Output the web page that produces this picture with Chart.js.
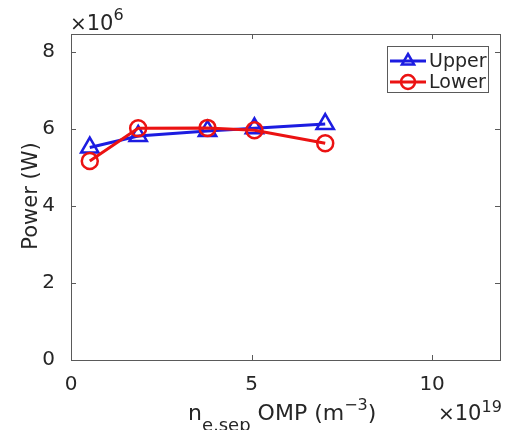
<!DOCTYPE html>
<html>
<head>
<meta charset="UTF-8">
<title>Power vs density</title>
<script src="https://cdn.jsdelivr.net/npm/chart.js"></script>
<style>
    body { margin: 0; background: #fff; }
    canvas { display: block; }
</style>
</head>
<body>
<canvas id="grafico" width="505" height="430"></canvas>
<script>
    // dados
    const densidade = [0.52, 1.86, 3.78, 5.08, 7.04];   // x 1e19 m^-3
    const potUpper = [5.52, 5.82, 5.95, 6.02, 6.13];   // x 1e6 W
    const potLower = [5.17, 6.02, 6.03, 5.97, 5.63];
    const ticksX = [0, 5, 10];
    const ticksY = [0, 2, 4, 6, 8];
    const nomes = ['Upper', 'Lower'];

    const azul = 'rgb(28,28,225)';
    const vermelho = 'rgb(235,18,18)';
    const cinza = 'rgb(90,90,90)';
    const texto = 'rgb(38,38,38)';
    const fonte = 'DejaVu Sans';

    function pontos(ys) {
        return densidade.map((x, i) => ({ x: x, y: ys[i] }));
    }

    function marcador(ctx, estilo, x, y, r, cor) {
        ctx.save();
        ctx.strokeStyle = cor;
        ctx.lineWidth = 2.5;
        ctx.beginPath();
        if (estilo == 'triangle') {
            ctx.moveTo(x, y - r);
            ctx.lineTo(x + r * 0.87, y + r * 0.5);
            ctx.lineTo(x - r * 0.87, y + r * 0.5);
            ctx.closePath();
        } else {
            ctx.arc(x, y, r, 0, Math.PI * 2);
        }
        ctx.stroke();
        ctx.restore();
    }

    // caixa, ticks para dentro, legenda e textos
    const moldura = {
        id: 'moldura',
        afterDraw(chart) {
            const ctx = chart.ctx;
            const a = chart.chartArea;
            const sx = chart.scales.x;
            const sy = chart.scales.y;
            ctx.save();
            ctx.strokeStyle = cinza;
            ctx.lineWidth = 1;
            ctx.strokeRect(a.left + 0.5, a.top + 0.5, a.right - a.left, a.bottom - a.top);
            ctx.beginPath();
            ticksX.forEach(v => {
                const px = Math.round(sx.getPixelForValue(v)) + 0.5;
                ctx.moveTo(px, a.bottom); ctx.lineTo(px, a.bottom - 5);
                ctx.moveTo(px, a.top); ctx.lineTo(px, a.top + 5);
            });
            ticksY.forEach(v => {
                const py = Math.round(sy.getPixelForValue(v)) + 0.5;
                ctx.moveTo(a.left, py); ctx.lineTo(a.left + 5, py);
                ctx.moveTo(a.right, py); ctx.lineTo(a.right - 5, py);
            });
            ctx.stroke();

            // legenda
            ctx.fillStyle = '#fff';
            ctx.fillRect(387, 46, 101, 46);
            ctx.strokeStyle = cinza;
            ctx.strokeRect(387.5, 46.5, 101, 46);
            const cores = [azul, vermelho];
            const estilos = ['triangle', 'circle'];
            const linhas = [61, 82];
            ctx.font = '19px ' + fonte;
            ctx.textBaseline = 'middle';
            nomes.forEach((n, i) => {
                ctx.strokeStyle = cores[i];
                ctx.lineWidth = 3;
                ctx.beginPath();
                ctx.moveTo(390, linhas[i]);
                ctx.lineTo(426, linhas[i]);
                ctx.stroke();
                marcador(ctx, estilos[i], 408, linhas[i], 7, cores[i]);
                ctx.fillStyle = texto;
                ctx.fillText(n, 429, linhas[i] + 1);
            });

            // titulo do eixo y
            ctx.save();
            ctx.translate(37, 196);
            ctx.rotate(-Math.PI / 2);
            ctx.textAlign = 'center';
            ctx.textBaseline = 'alphabetic';
            ctx.font = '21px ' + fonte;
            ctx.fillText('Power (W)', 0, 0);
            ctx.restore();

            // titulo do eixo x com subscrito e sobrescrito
            ctx.textAlign = 'left';
            ctx.textBaseline = 'alphabetic';
            let x = 188;
            const base = 420;
            ctx.font = '22px ' + fonte;
            ctx.fillText('n', x, base);
            x += ctx.measureText('n').width;
            ctx.font = '18px ' + fonte;
            ctx.fillText('e,sep', x, base + 11);
            x += ctx.measureText('e,sep').width + 7;
            ctx.font = '22px ' + fonte;
            ctx.fillText('OMP (m', x, base);
            x += ctx.measureText('OMP (m').width;
            ctx.font = '16px ' + fonte;
            ctx.fillText('\u22123', x, base - 10);
            x += ctx.measureText('\u22123').width;
            ctx.font = '22px ' + fonte;
            ctx.fillText(')', x, base);

            // expoentes
            function expoente(px, py, e, dy) {
                ctx.font = '20px ' + fonte;
                ctx.fillText('\u00d7', px, py);
                let w = ctx.measureText('\u00d7').width;
                ctx.font = '21px ' + fonte;
                ctx.fillText('10', px + w, py);
                w += ctx.measureText('10').width;
                ctx.font = '16px ' + fonte;
                ctx.fillText(e, px + w, py - dy);
            }
            expoente(70, 30, '6', 10);
            expoente(438, 420, '19', 8);
            ctx.restore();
        }
    };

    const config = {
        type: 'scatter',
        data: {
            datasets: [
                {
                    label: nomes[0],
                    data: pontos(potUpper),
                    showLine: true,
                    borderColor: azul,
                    backgroundColor: 'rgba(0,0,0,0)',
                    borderWidth: 3,
                    pointStyle: 'triangle',
                    pointRadius: 10,
                    pointBorderWidth: 2.5,
                    order: 1
                },
                {
                    label: nomes[1],
                    data: pontos(potLower),
                    showLine: true,
                    borderColor: vermelho,
                    backgroundColor: 'rgba(0,0,0,0)',
                    borderWidth: 3,
                    pointStyle: 'circle',
                    pointRadius: 8,
                    pointBorderWidth: 2.5,
                    order: 0
                }
            ]
        },
        options: {
            responsive: false,
            animation: false,
            devicePixelRatio: 1,
            layout: { autoPadding: false, padding: { top: 34, right: 5, left: 0, bottom: 0 } },
            plugins: {
                legend: { display: false },
                tooltip: { enabled: false }
            },
            scales: {
                x: {
                    type: 'linear',
                    min: 0,
                    max: 11.88,
                    grid: { display: false },
                    border: { display: false },
                    afterBuildTicks: s => { s.ticks = ticksX.map(v => ({ value: v })); },
                    afterFit: s => { s.height = 70; },
                    ticks: { color: texto, padding: 5, font: { family: fonte, size: 20 } }
                },
                y: {
                    type: 'linear',
                    min: 0,
                    max: 8.47,
                    grid: { display: false },
                    border: { display: false },
                    afterBuildTicks: s => { s.ticks = ticksY.map(v => ({ value: v })); },
                    afterFit: s => { s.width = 71; },
                    ticks: { color: texto, padding: 8, font: { family: fonte, size: 20 } }
                }
            }
        },
        plugins: [moldura]
    };

    const grafico = new Chart(document.getElementById('grafico'), config);
</script>
</body>
</html>
